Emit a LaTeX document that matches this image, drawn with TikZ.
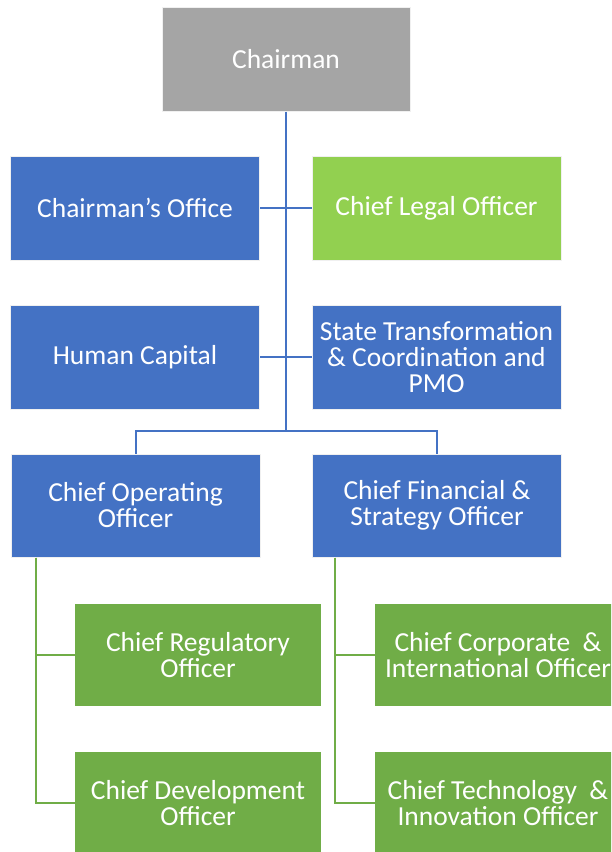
\documentclass[tikz,border=0pt]{standalone}
\usepackage{fontspec}
\setmainfont{Carlito}
\usepackage{tikz}
\usetikzlibrary{positioning}
\definecolor{topgray}{HTML}{A5A5A5}
\definecolor{unitblue}{HTML}{4472C4}
\definecolor{lightgreen}{HTML}{92D050}
\definecolor{unitgreen}{HTML}{70AD47}
\tikzstyle{unit} = [rectangle, draw=gray!12, line width=1pt, text=white, align=center,
  font=\fontsize{27.5}{26}\selectfont, minimum width=249pt, minimum height=104pt, inner sep=0pt]
\tikzstyle{blueunit} = [unit, fill=unitblue]
\tikzstyle{subunit} = [unit, fill=unitgreen, draw=none, minimum width=246pt, minimum height=102pt]
\tikzstyle{tie} = [unitblue, line width=2pt]
\tikzstyle{subtie} = [unitgreen, line width=2pt]

\begin{document}
\begin{tikzpicture}[x=1pt,y=-1pt]
\useasboundingbox (0,0) rectangle (611,852);
\clip (0,0) rectangle (611,852);

    % top of the chart
    \node[unit, fill=topgray, minimum width=248pt] (chair) at (286,59) {Chairman};

    % staff units beside the main line
    \node[blueunit] (office) at (135,208) {Chairman’s Office};
    \node[unit, fill=lightgreen] (legal) at (436.5,208) {Chief Legal Officer};
    \node[blueunit] (human) at (135,357) {Human Capital};
    \node[blueunit] (state) at (436.5,357) {State Transformation\\\& Coordination and\\PMO};

    % the two chiefs
    \node[blueunit, minimum height=103pt] (coo) at (135.5,505.5) {Chief Operating\\Officer};
    \node[blueunit, minimum height=103pt] (cfso) at (437,505.5) {Chief Financial \&\\Strategy Officer};

    % officers below them
    \node[subunit] (reg) at (198,655) {Chief Regulatory\\Officer};
    \node[subunit] (dev) at (198,803) {Chief Development\\Officer};
    \node[subunit] (corp) at (498,655) {Chief Corporate\ \ \&\\International Officer};
    \node[subunit] (tech) at (498,803) {Chief Technology\ \ \&\\Innovation Officer};

    \coordinate (split) at (286,431);
    \draw[tie] (chair.south) -- (split);
    \draw[tie] (office.east) -- (legal.west);
    \draw[tie] (human.east) -- (state.west);
    \draw[tie] (coo.north) |- (split) -| (cfso.north);

    \draw[subtie] ([xshift=25pt]coo.south west) |- (reg.west);
    \draw[subtie] ([xshift=25pt]coo.south west) |- (dev.west);
    \draw[subtie] ([xshift=23pt]cfso.south west) |- (corp.west);
    \draw[subtie] ([xshift=23pt]cfso.south west) |- (tech.west);
\end{tikzpicture}
\end{document}
